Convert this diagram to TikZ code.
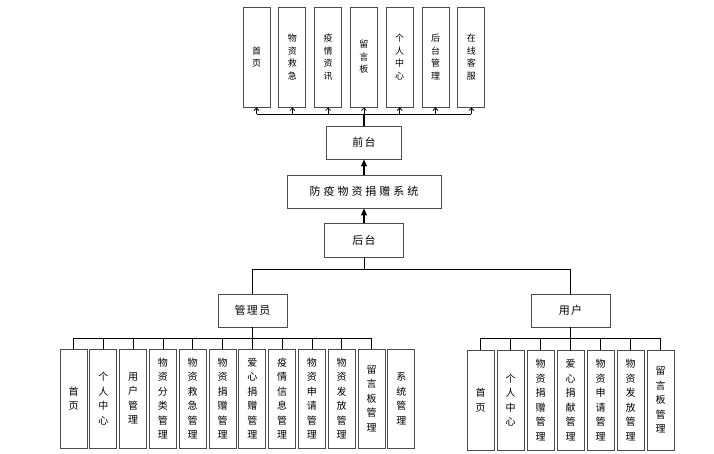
\documentclass[tikz,border=0pt]{standalone}
\usepackage{fontspec}
\setmainfont{Noto Sans CJK SC}
\usetikzlibrary{arrows.meta, positioning}
\tikzset{>=Stealth}
\tikzset{
  box/.style={draw=black!70, line width=0.9pt, fill=white, inner sep=0pt, align=center},
  topbox/.style={box, minimum width=27pt, minimum height=100pt, font=\fontsize{9}{12.5}\selectfont},
  leafbox/.style={box, minimum width=27pt, minimum height=99pt, font=\fontsize{10}{14.5}\selectfont},
  midbox/.style={box, minimum height=33pt, font=\fontsize{11}{13}\selectfont\addfontfeatures{LetterSpace=12}},
  link/.style={line width=0.8pt},
  uparrow/.style={link, -{Straight Barb[length=2.5pt,width=5pt]}},
  fillarrow/.style={line width=1.2pt, -{Triangle[length=7pt,width=6pt]}}
}

\begin{document}
\begin{tikzpicture}[x=1pt, y=-1pt]
\useasboundingbox (0,0) rectangle (714,453);

% front end modules
\foreach \i/\t in {1/{首\\页}, 2/{物\\资\\救\\急}, 3/{疫\\情\\资\\讯}, 4/{留\\言\\板},
  5/{个\\人\\中\\心}, 6/{后\\台\\管\\理}, 7/{在\\线\\客\\服}}
  \node[topbox] (t\i) at ({256.5+35.8*(\i-1)},57) {\t};

\node[midbox, minimum width=75pt] (front) at (364,142.5) {前台};
\node[midbox, minimum width=154pt] (sys) at (364,191.5) {\addfontfeatures{LetterSpace=27}防疫物资捐赠系统};
\node[midbox, minimum width=79pt, minimum height=34pt] (back) at (364,240) {后台};
\node[midbox, minimum width=69pt] (admin) at (252.5,310.5) {管理员};
\node[midbox, minimum width=79pt] (user) at (570.5,310.5) {用户};

\draw[fillarrow] (back.north) -- (sys.south);
\draw[fillarrow] (sys.north) -- (front.south);

\coordinate (tbus) at (364,114);
\draw[line width=1.8pt] (front.north) -- (tbus);
\draw[link] (t1.south |- tbus) -- (t7.south |- tbus);
\foreach \i in {1,...,7}
  \draw[uparrow] (t\i.south |- tbus) -- (t\i.south);

% back end
\coordinate (bbus) at (364,269);
\draw[link] (back.south) -- (bbus);
\draw[link] (admin.north) -- (admin.north |- bbus) -- (user.north |- bbus) -- (user.north);

% admin modules
\foreach \i/\t in {1/{首\\页}, 2/{个\\人\\中\\心}, 3/{用\\户\\管\\理}, 4/{物\\资\\分\\类\\管\\理},
  5/{物\\资\\救\\急\\管\\理}, 6/{物\\资\\捐\\赠\\管\\理}, 7/{爱\\心\\捐\\赠\\管\\理},
  8/{疫\\情\\信\\息\\管\\理}, 9/{物\\资\\申\\请\\管\\理}, 10/{物\\资\\发\\放\\管\\理},
  11/{留\\言\\板\\管\\理}, 12/{系\\统\\管\\理}}
  \node[leafbox] (a\i) at ({73.5+29.8*(\i-1)},398.5) {\t};

\coordinate (abus) at (252.5,338);
\draw[link] (admin.south) -- (abus);
\draw[link] (a1.north |- abus) -- (a11.north |- abus);
\foreach \i in {1,...,11}
  \draw[link] (a\i.north |- abus) -- (a\i.north);

% user modules
\foreach \i/\t in {1/{首\\页}, 2/{个\\人\\中\\心}, 3/{物\\资\\捐\\赠\\管\\理},
  4/{爱\\心\\捐\\献\\管\\理}, 5/{物\\资\\申\\请\\管\\理}, 6/{物\\资\\发\\放\\管\\理},
  7/{留\\言\\板\\管\\理}}
  \node[leafbox, minimum height=100pt] (u\i) at ({480.5+30*(\i-1)},400) {\t};

\coordinate (ubus) at (570.5,338);
\draw[link] (user.south) -- (ubus);
\draw[link] (u1.north |- ubus) -- (u7.north |- ubus);
\foreach \i in {1,...,7}
  \draw[link] (u\i.north |- ubus) -- (u\i.north);
\end{tikzpicture}
\end{document}
